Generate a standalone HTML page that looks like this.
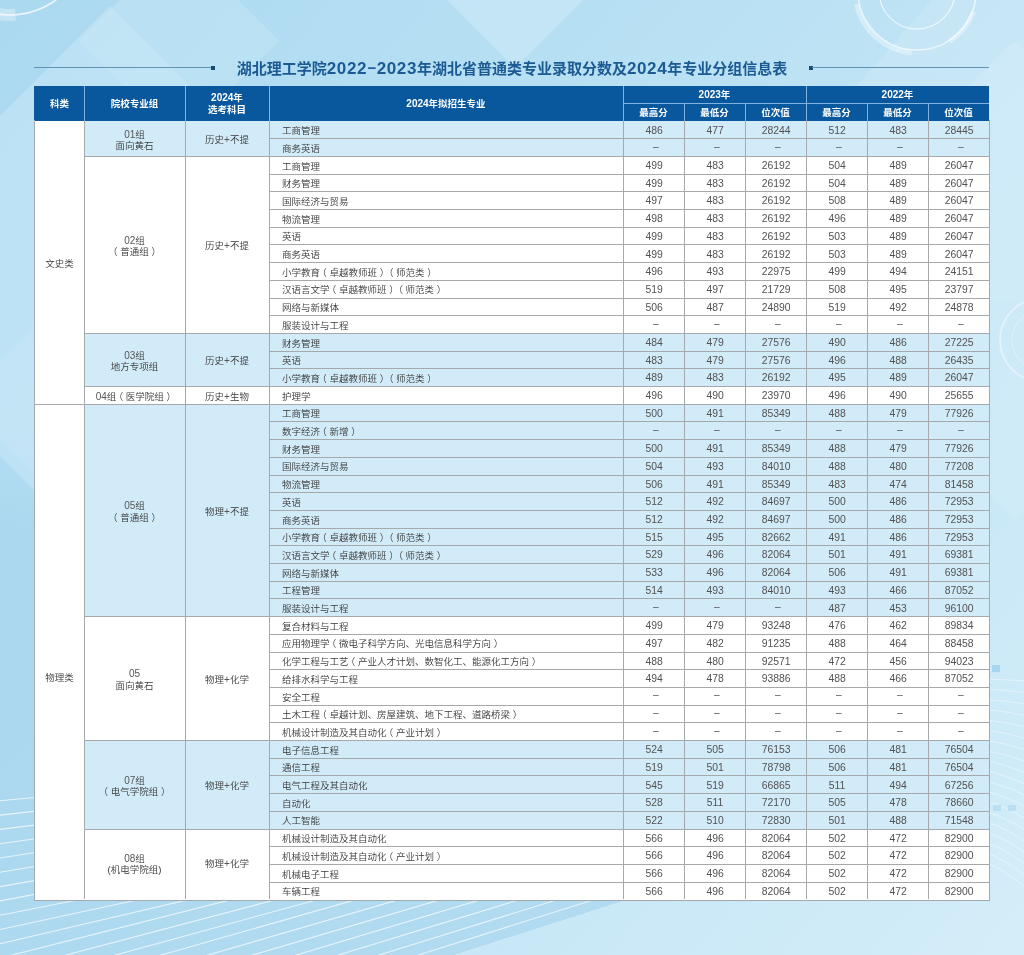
<!DOCTYPE html>
<html lang="zh-CN"><head><meta charset="utf-8">
<title>湖北理工学院2022-2023年湖北省普通类专业录取分数及2024年专业分组信息表</title>
<style>
html,body{margin:0;padding:0}
body{width:1024px;height:955px;overflow:hidden;position:relative;background:#b6def2;font-family:"Liberation Sans","Noto Sans CJK SC",sans-serif}
.bg{position:absolute;left:0;top:0}
.b{position:absolute}
.t,.n,.h{position:absolute;white-space:nowrap;color:#444444;text-spacing-trim:space-all}
.t{font-family:"Liberation Sans","Noto Sans CJK SC",sans-serif;font-size:9.5px;font-weight:350;color:#383838}
.t .n{position:static;font-family:"Liberation Sans",sans-serif;font-size:10px;color:#555}
.n{font-family:"Liberation Sans",sans-serif;font-size:10.4px;color:#525252}
.h{font-family:"Liberation Sans","Noto Sans CJK SC",sans-serif;font-size:9.5px;font-weight:700;color:#fff}
.hd{font-family:"Liberation Sans",sans-serif;font-weight:700;font-size:10px}
.title{position:absolute;left:0;width:1024px;top:58px;height:22px;line-height:22px;text-align:center;font-family:"Liberation Sans","Noto Sans CJK SC",sans-serif;font-weight:700;font-size:15px;color:#1b5a93;white-space:nowrap}
.title .d{font-family:"Liberation Sans",sans-serif;font-size:17px;font-weight:700;letter-spacing:0.6px}
.mn{position:relative;top:-1.5px;margin:0 0.5px}
.po{position:relative;left:-0.28em}
.pc{position:relative;left:0.29em}
.dash{font-size:10.2px;position:relative;top:-1.7px;left:1.8px;color:#555}
</style></head><body>
<svg class="bg" width="1024" height="955" viewBox="0 0 1024 955">
<defs>
<linearGradient id="g0" x1="0" y1="0" x2="1024" y2="955" gradientUnits="userSpaceOnUse">
<stop offset="0" stop-color="#abd9f0"/>
<stop offset="0.45" stop-color="#bce2f4"/>
<stop offset="1" stop-color="#d4edf9"/>
</linearGradient>
<linearGradient id="fadeR" x1="0" y1="0" x2="700" y2="0" gradientUnits="userSpaceOnUse">
<stop offset="0" stop-color="#fff" stop-opacity="0.85"/>
<stop offset="0.6" stop-color="#fff" stop-opacity="0.6"/>
<stop offset="0.9" stop-color="#fff" stop-opacity="0"/>
</linearGradient>
<linearGradient id="darkBL" x1="0" y1="0" x2="700" y2="0" gradientUnits="userSpaceOnUse">
<stop offset="0" stop-color="#a2d3ec" stop-opacity="1"/>
<stop offset="0.7" stop-color="#a2d3ec" stop-opacity="0.4"/>
<stop offset="1" stop-color="#a2d3ec" stop-opacity="0"/>
</linearGradient>
</defs>
<rect width="1024" height="955" fill="url(#g0)"/>
<clipPath id="stc"><polygon points="0,600 980,600 980,787 456,955 0,955"/></clipPath>
<linearGradient id="dk" x1="0" y1="430" x2="0" y2="540" gradientUnits="userSpaceOnUse"><stop offset="0" stop-color="#a5d4ed" stop-opacity="0"/><stop offset="1" stop-color="#a5d4ed" stop-opacity="0.65"/></linearGradient>
<polygon points="0,430 980,430 980,787 456,955 0,955" fill="url(#dk)"/>
<polygon points="110,6 390,286 110,566 -170,286" fill="#c8e8f7" opacity="0.55"/>
<polygon points="179,-59 279,41 179,141 79,41" fill="#c8e8f7" opacity="0.45"/>
<polygon points="515,-212 655,-72 515,68 375,-72" fill="#cdeaf8" opacity="0.6"/>
<polygon points="932,0 1024,0 1024,300 668,300" fill="#cdeaf8" opacity="0.5"/>
<polygon points="1015,40 1255,280 1015,520 775,280" fill="#d6eefa" opacity="0.5"/>
<polygon points="30,330 100,400 30,470 -40,400" fill="#c4e5f5" opacity="0.6"/>
<filter id="bl" x="-20%" y="-20%" width="140%" height="140%"><feGaussianBlur stdDeviation="0.7"/></filter>
<g fill="none" stroke="#ffffff" filter="url(#bl)">
<circle cx="917" cy="-9" r="38" stroke-width="1.1" opacity="0.75"/>
<circle cx="917" cy="-9" r="59" stroke-width="1.6" opacity="0.65"/>
<path d="M 911.6 52.8 A 62 62 0 0 1 856.4 3.9" stroke-width="5" opacity="0.35"/>
<path d="M 973.4 11.5 A 60 60 0 0 1 949.7 41.3" stroke-width="5" opacity="0.35"/>
<circle cx="10" cy="-63" r="78" stroke-width="1.6" opacity="0.75"/>
<circle cx="1042" cy="340" r="42" stroke-width="1.8" opacity="0.45"/>
<circle cx="1042" cy="340" r="30" stroke-width="1" opacity="0.35"/>
<path d="M 15.4 14.8 A 78 78 0 0 1 -2.2 14.0" stroke-width="12" opacity="0.3"/>
</g>
<g stroke="#ffffff" stroke-opacity="0.7" stroke-width="1.1" fill="none" clip-path="url(#stc)">
<line x1="0" y1="800.8" x2="1000" y2="706.8" />
<line x1="0" y1="815.1" x2="1000" y2="705.6" />
<line x1="0" y1="829.4" x2="1000" y2="704.4" />
<line x1="0" y1="843.7" x2="1000" y2="703.2" />
<line x1="0" y1="858.0" x2="1000" y2="702.0" />
<line x1="0" y1="872.3" x2="1000" y2="706.0" />
<line x1="0" y1="886.6" x2="1000" y2="710.1" />
<line x1="0" y1="900.9" x2="1000" y2="714.1" />
<line x1="0" y1="915.2" x2="1000" y2="718.2" />
<line x1="0" y1="929.5" x2="1000" y2="713.8" />
<line x1="0" y1="943.8" x2="1000" y2="709.5" />
<line x1="0" y1="958.1" x2="1000" y2="705.1" />
<line x1="0" y1="972.4" x2="1000" y2="708.7" />
<line x1="0" y1="986.7" x2="1000" y2="712.4" />
<line x1="0" y1="1001.0" x2="1000" y2="716.0" />
<line x1="0" y1="1015.3" x2="1000" y2="725.3" />
<line x1="0" y1="1029.6" x2="1000" y2="734.6" />
<line x1="0" y1="1043.9" x2="1000" y2="743.9" />
<line x1="0" y1="1058.2" x2="1000" y2="753.2" />
<line x1="0" y1="1072.5" x2="1000" y2="762.5" />
<line x1="0" y1="1086.8" x2="1000" y2="771.8" />
<line x1="0" y1="1101.1" x2="1000" y2="781.1" />
</g>
<g stroke="#ffffff" stroke-opacity="0.45" stroke-width="0.9" fill="none">
<path d="M 985 679.0 Q 1005 679.5 1026 681.0" />
<path d="M 985 689.2 Q 1005 690.1 1026 692.5" />
<path d="M 985 699.4 Q 1005 700.6 1026 704.0" />
<path d="M 985 709.6 Q 1005 711.1 1026 715.5" />
<path d="M 985 719.8 Q 1005 721.7 1026 727.0" />
<path d="M 985 730.0 Q 1005 732.2 1026 738.5" />
<path d="M 985 740.2 Q 1005 742.8 1026 750.0" />
<path d="M 985 750.4 Q 1005 753.4 1026 761.5" />
<path d="M 985 760.6 Q 1005 763.9 1026 773.0" />
<path d="M 985 770.8 Q 1005 774.4 1026 784.5" />
<path d="M 985 781.0 Q 1005 785.0 1026 796.0" />
<path d="M 985 791.2 Q 1005 795.6 1026 807.5" />
<path d="M 985 801.4 Q 1005 806.1 1026 819.0" />
<path d="M 985 811.6 Q 1005 816.6 1026 830.5" />
<path d="M 985 821.8 Q 1005 827.2 1026 842.0" />
<path d="M 985 832.0 Q 1005 837.8 1026 853.5" />
<path d="M 985 842.2 Q 1005 848.3 1026 865.0" />
<path d="M 985 852.4 Q 1005 858.9 1026 876.5" />
<path d="M 985 862.6 Q 1005 869.4 1026 888.0" />
</g>
<rect x="992" y="665" width="8" height="7" fill="#9fd0ec" opacity="0.8"/>
<rect x="993" y="805" width="8" height="6" fill="#b5dcf0" opacity="0.8"/>
<rect x="1008" y="805" width="8" height="6" fill="#b5dcf0" opacity="0.8"/>
</svg>
<div class="b" style="left:34px;top:67px;width:178px;height:1px;background:#6292b5"></div>
<div class="b" style="left:211px;top:66px;width:4px;height:4px;background:#1b4a70"></div>
<div class="b" style="left:809px;top:66px;width:4px;height:4px;background:#1b4a70"></div>
<div class="b" style="left:812px;top:67px;width:177px;height:1px;background:#6292b5"></div>
<div class="title">湖北理工学院<span class="d">2022</span><span class="mn">−</span><span class="d">2023</span>年湖北省普通类专业录取分数及<span class="d">2024</span>年专业分组信息表</div>
<div class="b" style="left:34.00px;top:120.50px;width:955.00px;height:779.50px;background:#ffffff;"></div>
<div class="b" style="left:84.00px;top:121.00px;width:905.00px;height:35.40px;background:#d2ebf9;"></div>
<div class="b" style="left:84.00px;top:333.40px;width:905.00px;height:53.10px;background:#d2ebf9;"></div>
<div class="b" style="left:84.00px;top:404.20px;width:905.00px;height:212.40px;background:#d2ebf9;"></div>
<div class="b" style="left:84.00px;top:740.50px;width:905.00px;height:88.50px;background:#d2ebf9;"></div>
<div class="b" style="left:34.00px;top:86.00px;width:955.00px;height:34.50px;background:#09589d;"></div>
<div class="b" style="left:34px;top:120px;width:1px;height:781px;background:#a6a9ab"></div>
<div class="b" style="left:989px;top:120px;width:1px;height:781px;background:#a6a9ab"></div>
<div class="b" style="left:34px;top:900px;width:956px;height:1px;background:#a6a9ab"></div>
<div class="b" style="left:84px;top:120px;width:1px;height:779px;background:#a6a9ab"></div>
<div class="b" style="left:185px;top:120px;width:1px;height:779px;background:#a6a9ab"></div>
<div class="b" style="left:269px;top:120px;width:1px;height:779px;background:#a6a9ab"></div>
<div class="b" style="left:623px;top:120px;width:1px;height:779px;background:#a6a9ab"></div>
<div class="b" style="left:684px;top:120px;width:1px;height:779px;background:#a6a9ab"></div>
<div class="b" style="left:745px;top:120px;width:1px;height:779px;background:#a6a9ab"></div>
<div class="b" style="left:806px;top:120px;width:1px;height:779px;background:#a6a9ab"></div>
<div class="b" style="left:867px;top:120px;width:1px;height:779px;background:#a6a9ab"></div>
<div class="b" style="left:928px;top:120px;width:1px;height:779px;background:#a6a9ab"></div>
<div class="b" style="left:269px;top:138px;width:720px;height:1px;background:#a6a9ab"></div>
<div class="b" style="left:269px;top:156px;width:720px;height:1px;background:#a6a9ab"></div>
<div class="b" style="left:269px;top:174px;width:720px;height:1px;background:#a6a9ab"></div>
<div class="b" style="left:269px;top:191px;width:720px;height:1px;background:#a6a9ab"></div>
<div class="b" style="left:269px;top:209px;width:720px;height:1px;background:#a6a9ab"></div>
<div class="b" style="left:269px;top:227px;width:720px;height:1px;background:#a6a9ab"></div>
<div class="b" style="left:269px;top:244px;width:720px;height:1px;background:#a6a9ab"></div>
<div class="b" style="left:269px;top:262px;width:720px;height:1px;background:#a6a9ab"></div>
<div class="b" style="left:269px;top:280px;width:720px;height:1px;background:#a6a9ab"></div>
<div class="b" style="left:269px;top:298px;width:720px;height:1px;background:#a6a9ab"></div>
<div class="b" style="left:269px;top:315px;width:720px;height:1px;background:#a6a9ab"></div>
<div class="b" style="left:269px;top:333px;width:720px;height:1px;background:#a6a9ab"></div>
<div class="b" style="left:269px;top:351px;width:720px;height:1px;background:#a6a9ab"></div>
<div class="b" style="left:269px;top:368px;width:720px;height:1px;background:#a6a9ab"></div>
<div class="b" style="left:269px;top:386px;width:720px;height:1px;background:#a6a9ab"></div>
<div class="b" style="left:269px;top:404px;width:720px;height:1px;background:#a6a9ab"></div>
<div class="b" style="left:269px;top:421px;width:720px;height:1px;background:#a6a9ab"></div>
<div class="b" style="left:269px;top:439px;width:720px;height:1px;background:#a6a9ab"></div>
<div class="b" style="left:269px;top:457px;width:720px;height:1px;background:#a6a9ab"></div>
<div class="b" style="left:269px;top:475px;width:720px;height:1px;background:#a6a9ab"></div>
<div class="b" style="left:269px;top:492px;width:720px;height:1px;background:#a6a9ab"></div>
<div class="b" style="left:269px;top:510px;width:720px;height:1px;background:#a6a9ab"></div>
<div class="b" style="left:269px;top:528px;width:720px;height:1px;background:#a6a9ab"></div>
<div class="b" style="left:269px;top:545px;width:720px;height:1px;background:#a6a9ab"></div>
<div class="b" style="left:269px;top:563px;width:720px;height:1px;background:#a6a9ab"></div>
<div class="b" style="left:269px;top:581px;width:720px;height:1px;background:#a6a9ab"></div>
<div class="b" style="left:269px;top:598px;width:720px;height:1px;background:#a6a9ab"></div>
<div class="b" style="left:269px;top:616px;width:720px;height:1px;background:#a6a9ab"></div>
<div class="b" style="left:269px;top:634px;width:720px;height:1px;background:#a6a9ab"></div>
<div class="b" style="left:269px;top:652px;width:720px;height:1px;background:#a6a9ab"></div>
<div class="b" style="left:269px;top:669px;width:720px;height:1px;background:#a6a9ab"></div>
<div class="b" style="left:269px;top:687px;width:720px;height:1px;background:#a6a9ab"></div>
<div class="b" style="left:269px;top:705px;width:720px;height:1px;background:#a6a9ab"></div>
<div class="b" style="left:269px;top:722px;width:720px;height:1px;background:#a6a9ab"></div>
<div class="b" style="left:269px;top:740px;width:720px;height:1px;background:#a6a9ab"></div>
<div class="b" style="left:269px;top:758px;width:720px;height:1px;background:#a6a9ab"></div>
<div class="b" style="left:269px;top:775px;width:720px;height:1px;background:#a6a9ab"></div>
<div class="b" style="left:269px;top:793px;width:720px;height:1px;background:#a6a9ab"></div>
<div class="b" style="left:269px;top:811px;width:720px;height:1px;background:#a6a9ab"></div>
<div class="b" style="left:269px;top:829px;width:720px;height:1px;background:#a6a9ab"></div>
<div class="b" style="left:269px;top:846px;width:720px;height:1px;background:#a6a9ab"></div>
<div class="b" style="left:269px;top:864px;width:720px;height:1px;background:#a6a9ab"></div>
<div class="b" style="left:269px;top:882px;width:720px;height:1px;background:#a6a9ab"></div>
<div class="b" style="left:84px;top:156px;width:185px;height:1px;background:#a6a9ab"></div>
<div class="b" style="left:84px;top:333px;width:185px;height:1px;background:#a6a9ab"></div>
<div class="b" style="left:84px;top:386px;width:185px;height:1px;background:#a6a9ab"></div>
<div class="b" style="left:84px;top:404px;width:185px;height:1px;background:#a6a9ab"></div>
<div class="b" style="left:84px;top:616px;width:185px;height:1px;background:#a6a9ab"></div>
<div class="b" style="left:84px;top:740px;width:185px;height:1px;background:#a6a9ab"></div>
<div class="b" style="left:84px;top:829px;width:185px;height:1px;background:#a6a9ab"></div>
<div class="b" style="left:35px;top:404px;width:49px;height:1px;background:#a6a9ab"></div>
<div class="b" style="left:84px;top:86px;width:1px;height:34px;background:#7fb2e0"></div>
<div class="b" style="left:185px;top:86px;width:1px;height:34px;background:#7fb2e0"></div>
<div class="b" style="left:269px;top:86px;width:1px;height:34px;background:#7fb2e0"></div>
<div class="b" style="left:623px;top:86px;width:1px;height:34px;background:#7fb2e0"></div>
<div class="b" style="left:806px;top:86px;width:1px;height:34px;background:#7fb2e0"></div>
<div class="b" style="left:684px;top:103px;width:1px;height:17px;background:#7fb2e0"></div>
<div class="b" style="left:745px;top:103px;width:1px;height:17px;background:#7fb2e0"></div>
<div class="b" style="left:867px;top:103px;width:1px;height:17px;background:#7fb2e0"></div>
<div class="b" style="left:928px;top:103px;width:1px;height:17px;background:#7fb2e0"></div>
<div class="b" style="left:623px;top:103px;width:366px;height:1px;background:#7fb2e0"></div>
<div class="h" style="left:35.00px;top:94.25px;width:49.00px;height:20px;line-height:20px;text-align:center">科类</div>
<div class="h" style="left:84.00px;top:94.25px;width:101.00px;height:20px;line-height:20px;text-align:center">院校专业组</div>
<div class="h" style="left:185.00px;top:91.85px;width:84.00px;height:24px;line-height:12px;text-align:center"><span class="hd">2024</span>年<br>选考科目</div>
<div class="h" style="left:269.00px;top:94.25px;width:354.00px;height:20px;line-height:20px;text-align:center"><span class="hd">2024</span>年拟招生专业</div>
<div class="h" style="left:623.00px;top:84.85px;width:183.00px;height:20px;line-height:20px;text-align:center"><span class="hd">2023</span>年</div>
<div class="h" style="left:806.00px;top:84.85px;width:183.00px;height:20px;line-height:20px;text-align:center"><span class="hd">2022</span>年</div>
<div class="h" style="left:623.00px;top:103.20px;width:61.00px;height:20px;line-height:20px;text-align:center">最高分</div>
<div class="h" style="left:684.00px;top:103.20px;width:61.00px;height:20px;line-height:20px;text-align:center">最低分</div>
<div class="h" style="left:745.00px;top:103.20px;width:61.00px;height:20px;line-height:20px;text-align:center">位次值</div>
<div class="h" style="left:806.00px;top:103.20px;width:61.00px;height:20px;line-height:20px;text-align:center">最高分</div>
<div class="h" style="left:867.00px;top:103.20px;width:61.00px;height:20px;line-height:20px;text-align:center">最低分</div>
<div class="h" style="left:928.00px;top:103.20px;width:61.00px;height:20px;line-height:20px;text-align:center">位次值</div>
<div class="t" style="left:35.00px;top:253.80px;width:49.00px;height:20px;line-height:20px;text-align:center">文史类</div>
<div class="t" style="left:35.00px;top:668.40px;width:49.00px;height:20px;line-height:20px;text-align:center">物理类</div>
<div class="t" style="left:84.00px;top:128.60px;width:101.00px;height:22.4px;line-height:11.2px;text-align:center"><span class="n">01</span>组<br>面向黄石</div>
<div class="t" style="left:185.00px;top:130.00px;width:84.00px;height:20px;line-height:20px;text-align:center">历史<span class="n">+</span>不提</div>
<div class="t" style="left:84.00px;top:234.80px;width:101.00px;height:22.4px;line-height:11.2px;text-align:center"><span class="n">02</span>组<br><span class="po">（</span>普通组<span class="pc">）</span></div>
<div class="t" style="left:185.00px;top:236.20px;width:84.00px;height:20px;line-height:20px;text-align:center">历史<span class="n">+</span>不提</div>
<div class="t" style="left:84.00px;top:349.85px;width:101.00px;height:22.4px;line-height:11.2px;text-align:center"><span class="n">03</span>组<br>地方专项组</div>
<div class="t" style="left:185.00px;top:351.25px;width:84.00px;height:20px;line-height:20px;text-align:center">历史<span class="n">+</span>不提</div>
<div class="t" style="left:84.00px;top:386.65px;width:101.00px;height:20px;line-height:20px;text-align:center"><span class="n">04</span>组<span class="po">（</span>医学院组<span class="pc">）</span></div>
<div class="t" style="left:185.00px;top:386.65px;width:84.00px;height:20px;line-height:20px;text-align:center">历史<span class="n">+</span>生物</div>
<div class="t" style="left:84.00px;top:500.30px;width:101.00px;height:22.4px;line-height:11.2px;text-align:center"><span class="n">05</span>组<br><span class="po">（</span>普通组<span class="pc">）</span></div>
<div class="t" style="left:185.00px;top:501.70px;width:84.00px;height:20px;line-height:20px;text-align:center">物理<span class="n">+</span>不提</div>
<div class="t" style="left:84.00px;top:668.45px;width:101.00px;height:22.4px;line-height:11.2px;text-align:center"><span class="n">05</span><br>面向黄石</div>
<div class="t" style="left:185.00px;top:669.85px;width:84.00px;height:20px;line-height:20px;text-align:center">物理<span class="n">+</span>化学</div>
<div class="t" style="left:84.00px;top:774.65px;width:101.00px;height:22.4px;line-height:11.2px;text-align:center"><span class="n">07</span>组<br><span class="po">（</span>电气学院组<span class="pc">）</span></div>
<div class="t" style="left:185.00px;top:776.05px;width:84.00px;height:20px;line-height:20px;text-align:center">物理<span class="n">+</span>化学</div>
<div class="t" style="left:84.00px;top:852.90px;width:101.00px;height:22.4px;line-height:11.2px;text-align:center"><span class="n">08</span>组<br>(机电学院组)</div>
<div class="t" style="left:185.00px;top:854.30px;width:84.00px;height:20px;line-height:20px;text-align:center">物理<span class="n">+</span>化学</div>
<div class="t" style="left:282.00px;top:121.15px;width:341.00px;height:20px;line-height:20px;text-align:left">工商管理</div>
<div class="n" style="left:623.60px;top:120.65px;width:61.00px;height:20px;line-height:20px;text-align:center">486</div>
<div class="n" style="left:684.60px;top:120.65px;width:61.00px;height:20px;line-height:20px;text-align:center">477</div>
<div class="n" style="left:745.60px;top:120.65px;width:61.00px;height:20px;line-height:20px;text-align:center">28244</div>
<div class="n" style="left:806.60px;top:120.65px;width:61.00px;height:20px;line-height:20px;text-align:center">512</div>
<div class="n" style="left:867.60px;top:120.65px;width:61.00px;height:20px;line-height:20px;text-align:center">483</div>
<div class="n" style="left:928.60px;top:120.65px;width:61.00px;height:20px;line-height:20px;text-align:center">28445</div>
<div class="t" style="left:282.00px;top:138.85px;width:341.00px;height:20px;line-height:20px;text-align:left">商务英语</div>
<div class="n" style="left:623.60px;top:138.35px;width:61.00px;height:20px;line-height:20px;text-align:center"><span class="dash">–</span></div>
<div class="n" style="left:684.60px;top:138.35px;width:61.00px;height:20px;line-height:20px;text-align:center"><span class="dash">–</span></div>
<div class="n" style="left:745.60px;top:138.35px;width:61.00px;height:20px;line-height:20px;text-align:center"><span class="dash">–</span></div>
<div class="n" style="left:806.60px;top:138.35px;width:61.00px;height:20px;line-height:20px;text-align:center"><span class="dash">–</span></div>
<div class="n" style="left:867.60px;top:138.35px;width:61.00px;height:20px;line-height:20px;text-align:center"><span class="dash">–</span></div>
<div class="n" style="left:928.60px;top:138.35px;width:61.00px;height:20px;line-height:20px;text-align:center"><span class="dash">–</span></div>
<div class="t" style="left:282.00px;top:156.55px;width:341.00px;height:20px;line-height:20px;text-align:left">工商管理</div>
<div class="n" style="left:623.60px;top:156.05px;width:61.00px;height:20px;line-height:20px;text-align:center">499</div>
<div class="n" style="left:684.60px;top:156.05px;width:61.00px;height:20px;line-height:20px;text-align:center">483</div>
<div class="n" style="left:745.60px;top:156.05px;width:61.00px;height:20px;line-height:20px;text-align:center">26192</div>
<div class="n" style="left:806.60px;top:156.05px;width:61.00px;height:20px;line-height:20px;text-align:center">504</div>
<div class="n" style="left:867.60px;top:156.05px;width:61.00px;height:20px;line-height:20px;text-align:center">489</div>
<div class="n" style="left:928.60px;top:156.05px;width:61.00px;height:20px;line-height:20px;text-align:center">26047</div>
<div class="t" style="left:282.00px;top:174.25px;width:341.00px;height:20px;line-height:20px;text-align:left">财务管理</div>
<div class="n" style="left:623.60px;top:173.75px;width:61.00px;height:20px;line-height:20px;text-align:center">499</div>
<div class="n" style="left:684.60px;top:173.75px;width:61.00px;height:20px;line-height:20px;text-align:center">483</div>
<div class="n" style="left:745.60px;top:173.75px;width:61.00px;height:20px;line-height:20px;text-align:center">26192</div>
<div class="n" style="left:806.60px;top:173.75px;width:61.00px;height:20px;line-height:20px;text-align:center">504</div>
<div class="n" style="left:867.60px;top:173.75px;width:61.00px;height:20px;line-height:20px;text-align:center">489</div>
<div class="n" style="left:928.60px;top:173.75px;width:61.00px;height:20px;line-height:20px;text-align:center">26047</div>
<div class="t" style="left:282.00px;top:191.95px;width:341.00px;height:20px;line-height:20px;text-align:left">国际经济与贸易</div>
<div class="n" style="left:623.60px;top:191.45px;width:61.00px;height:20px;line-height:20px;text-align:center">497</div>
<div class="n" style="left:684.60px;top:191.45px;width:61.00px;height:20px;line-height:20px;text-align:center">483</div>
<div class="n" style="left:745.60px;top:191.45px;width:61.00px;height:20px;line-height:20px;text-align:center">26192</div>
<div class="n" style="left:806.60px;top:191.45px;width:61.00px;height:20px;line-height:20px;text-align:center">508</div>
<div class="n" style="left:867.60px;top:191.45px;width:61.00px;height:20px;line-height:20px;text-align:center">489</div>
<div class="n" style="left:928.60px;top:191.45px;width:61.00px;height:20px;line-height:20px;text-align:center">26047</div>
<div class="t" style="left:282.00px;top:209.65px;width:341.00px;height:20px;line-height:20px;text-align:left">物流管理</div>
<div class="n" style="left:623.60px;top:209.15px;width:61.00px;height:20px;line-height:20px;text-align:center">498</div>
<div class="n" style="left:684.60px;top:209.15px;width:61.00px;height:20px;line-height:20px;text-align:center">483</div>
<div class="n" style="left:745.60px;top:209.15px;width:61.00px;height:20px;line-height:20px;text-align:center">26192</div>
<div class="n" style="left:806.60px;top:209.15px;width:61.00px;height:20px;line-height:20px;text-align:center">496</div>
<div class="n" style="left:867.60px;top:209.15px;width:61.00px;height:20px;line-height:20px;text-align:center">489</div>
<div class="n" style="left:928.60px;top:209.15px;width:61.00px;height:20px;line-height:20px;text-align:center">26047</div>
<div class="t" style="left:282.00px;top:227.35px;width:341.00px;height:20px;line-height:20px;text-align:left">英语</div>
<div class="n" style="left:623.60px;top:226.85px;width:61.00px;height:20px;line-height:20px;text-align:center">499</div>
<div class="n" style="left:684.60px;top:226.85px;width:61.00px;height:20px;line-height:20px;text-align:center">483</div>
<div class="n" style="left:745.60px;top:226.85px;width:61.00px;height:20px;line-height:20px;text-align:center">26192</div>
<div class="n" style="left:806.60px;top:226.85px;width:61.00px;height:20px;line-height:20px;text-align:center">503</div>
<div class="n" style="left:867.60px;top:226.85px;width:61.00px;height:20px;line-height:20px;text-align:center">489</div>
<div class="n" style="left:928.60px;top:226.85px;width:61.00px;height:20px;line-height:20px;text-align:center">26047</div>
<div class="t" style="left:282.00px;top:245.05px;width:341.00px;height:20px;line-height:20px;text-align:left">商务英语</div>
<div class="n" style="left:623.60px;top:244.55px;width:61.00px;height:20px;line-height:20px;text-align:center">499</div>
<div class="n" style="left:684.60px;top:244.55px;width:61.00px;height:20px;line-height:20px;text-align:center">483</div>
<div class="n" style="left:745.60px;top:244.55px;width:61.00px;height:20px;line-height:20px;text-align:center">26192</div>
<div class="n" style="left:806.60px;top:244.55px;width:61.00px;height:20px;line-height:20px;text-align:center">503</div>
<div class="n" style="left:867.60px;top:244.55px;width:61.00px;height:20px;line-height:20px;text-align:center">489</div>
<div class="n" style="left:928.60px;top:244.55px;width:61.00px;height:20px;line-height:20px;text-align:center">26047</div>
<div class="t" style="left:282.00px;top:262.75px;width:341.00px;height:20px;line-height:20px;text-align:left">小学教育<span class="po">（</span>卓越教师班<span class="pc">）</span><span class="po">（</span>师范类<span class="pc">）</span></div>
<div class="n" style="left:623.60px;top:262.25px;width:61.00px;height:20px;line-height:20px;text-align:center">496</div>
<div class="n" style="left:684.60px;top:262.25px;width:61.00px;height:20px;line-height:20px;text-align:center">493</div>
<div class="n" style="left:745.60px;top:262.25px;width:61.00px;height:20px;line-height:20px;text-align:center">22975</div>
<div class="n" style="left:806.60px;top:262.25px;width:61.00px;height:20px;line-height:20px;text-align:center">499</div>
<div class="n" style="left:867.60px;top:262.25px;width:61.00px;height:20px;line-height:20px;text-align:center">494</div>
<div class="n" style="left:928.60px;top:262.25px;width:61.00px;height:20px;line-height:20px;text-align:center">24151</div>
<div class="t" style="left:282.00px;top:280.45px;width:341.00px;height:20px;line-height:20px;text-align:left">汉语言文学<span class="po">（</span>卓越教师班<span class="pc">）</span><span class="po">（</span>师范类<span class="pc">）</span></div>
<div class="n" style="left:623.60px;top:279.95px;width:61.00px;height:20px;line-height:20px;text-align:center">519</div>
<div class="n" style="left:684.60px;top:279.95px;width:61.00px;height:20px;line-height:20px;text-align:center">497</div>
<div class="n" style="left:745.60px;top:279.95px;width:61.00px;height:20px;line-height:20px;text-align:center">21729</div>
<div class="n" style="left:806.60px;top:279.95px;width:61.00px;height:20px;line-height:20px;text-align:center">508</div>
<div class="n" style="left:867.60px;top:279.95px;width:61.00px;height:20px;line-height:20px;text-align:center">495</div>
<div class="n" style="left:928.60px;top:279.95px;width:61.00px;height:20px;line-height:20px;text-align:center">23797</div>
<div class="t" style="left:282.00px;top:298.15px;width:341.00px;height:20px;line-height:20px;text-align:left">网络与新媒体</div>
<div class="n" style="left:623.60px;top:297.65px;width:61.00px;height:20px;line-height:20px;text-align:center">506</div>
<div class="n" style="left:684.60px;top:297.65px;width:61.00px;height:20px;line-height:20px;text-align:center">487</div>
<div class="n" style="left:745.60px;top:297.65px;width:61.00px;height:20px;line-height:20px;text-align:center">24890</div>
<div class="n" style="left:806.60px;top:297.65px;width:61.00px;height:20px;line-height:20px;text-align:center">519</div>
<div class="n" style="left:867.60px;top:297.65px;width:61.00px;height:20px;line-height:20px;text-align:center">492</div>
<div class="n" style="left:928.60px;top:297.65px;width:61.00px;height:20px;line-height:20px;text-align:center">24878</div>
<div class="t" style="left:282.00px;top:315.85px;width:341.00px;height:20px;line-height:20px;text-align:left">服装设计与工程</div>
<div class="n" style="left:623.60px;top:315.35px;width:61.00px;height:20px;line-height:20px;text-align:center"><span class="dash">–</span></div>
<div class="n" style="left:684.60px;top:315.35px;width:61.00px;height:20px;line-height:20px;text-align:center"><span class="dash">–</span></div>
<div class="n" style="left:745.60px;top:315.35px;width:61.00px;height:20px;line-height:20px;text-align:center"><span class="dash">–</span></div>
<div class="n" style="left:806.60px;top:315.35px;width:61.00px;height:20px;line-height:20px;text-align:center"><span class="dash">–</span></div>
<div class="n" style="left:867.60px;top:315.35px;width:61.00px;height:20px;line-height:20px;text-align:center"><span class="dash">–</span></div>
<div class="n" style="left:928.60px;top:315.35px;width:61.00px;height:20px;line-height:20px;text-align:center"><span class="dash">–</span></div>
<div class="t" style="left:282.00px;top:333.55px;width:341.00px;height:20px;line-height:20px;text-align:left">财务管理</div>
<div class="n" style="left:623.60px;top:333.05px;width:61.00px;height:20px;line-height:20px;text-align:center">484</div>
<div class="n" style="left:684.60px;top:333.05px;width:61.00px;height:20px;line-height:20px;text-align:center">479</div>
<div class="n" style="left:745.60px;top:333.05px;width:61.00px;height:20px;line-height:20px;text-align:center">27576</div>
<div class="n" style="left:806.60px;top:333.05px;width:61.00px;height:20px;line-height:20px;text-align:center">490</div>
<div class="n" style="left:867.60px;top:333.05px;width:61.00px;height:20px;line-height:20px;text-align:center">486</div>
<div class="n" style="left:928.60px;top:333.05px;width:61.00px;height:20px;line-height:20px;text-align:center">27225</div>
<div class="t" style="left:282.00px;top:351.25px;width:341.00px;height:20px;line-height:20px;text-align:left">英语</div>
<div class="n" style="left:623.60px;top:350.75px;width:61.00px;height:20px;line-height:20px;text-align:center">483</div>
<div class="n" style="left:684.60px;top:350.75px;width:61.00px;height:20px;line-height:20px;text-align:center">479</div>
<div class="n" style="left:745.60px;top:350.75px;width:61.00px;height:20px;line-height:20px;text-align:center">27576</div>
<div class="n" style="left:806.60px;top:350.75px;width:61.00px;height:20px;line-height:20px;text-align:center">496</div>
<div class="n" style="left:867.60px;top:350.75px;width:61.00px;height:20px;line-height:20px;text-align:center">488</div>
<div class="n" style="left:928.60px;top:350.75px;width:61.00px;height:20px;line-height:20px;text-align:center">26435</div>
<div class="t" style="left:282.00px;top:368.95px;width:341.00px;height:20px;line-height:20px;text-align:left">小学教育<span class="po">（</span>卓越教师班<span class="pc">）</span><span class="po">（</span>师范类<span class="pc">）</span></div>
<div class="n" style="left:623.60px;top:368.45px;width:61.00px;height:20px;line-height:20px;text-align:center">489</div>
<div class="n" style="left:684.60px;top:368.45px;width:61.00px;height:20px;line-height:20px;text-align:center">483</div>
<div class="n" style="left:745.60px;top:368.45px;width:61.00px;height:20px;line-height:20px;text-align:center">26192</div>
<div class="n" style="left:806.60px;top:368.45px;width:61.00px;height:20px;line-height:20px;text-align:center">495</div>
<div class="n" style="left:867.60px;top:368.45px;width:61.00px;height:20px;line-height:20px;text-align:center">489</div>
<div class="n" style="left:928.60px;top:368.45px;width:61.00px;height:20px;line-height:20px;text-align:center">26047</div>
<div class="t" style="left:282.00px;top:386.65px;width:341.00px;height:20px;line-height:20px;text-align:left">护理学</div>
<div class="n" style="left:623.60px;top:386.15px;width:61.00px;height:20px;line-height:20px;text-align:center">496</div>
<div class="n" style="left:684.60px;top:386.15px;width:61.00px;height:20px;line-height:20px;text-align:center">490</div>
<div class="n" style="left:745.60px;top:386.15px;width:61.00px;height:20px;line-height:20px;text-align:center">23970</div>
<div class="n" style="left:806.60px;top:386.15px;width:61.00px;height:20px;line-height:20px;text-align:center">496</div>
<div class="n" style="left:867.60px;top:386.15px;width:61.00px;height:20px;line-height:20px;text-align:center">490</div>
<div class="n" style="left:928.60px;top:386.15px;width:61.00px;height:20px;line-height:20px;text-align:center">25655</div>
<div class="t" style="left:282.00px;top:404.35px;width:341.00px;height:20px;line-height:20px;text-align:left">工商管理</div>
<div class="n" style="left:623.60px;top:403.85px;width:61.00px;height:20px;line-height:20px;text-align:center">500</div>
<div class="n" style="left:684.60px;top:403.85px;width:61.00px;height:20px;line-height:20px;text-align:center">491</div>
<div class="n" style="left:745.60px;top:403.85px;width:61.00px;height:20px;line-height:20px;text-align:center">85349</div>
<div class="n" style="left:806.60px;top:403.85px;width:61.00px;height:20px;line-height:20px;text-align:center">488</div>
<div class="n" style="left:867.60px;top:403.85px;width:61.00px;height:20px;line-height:20px;text-align:center">479</div>
<div class="n" style="left:928.60px;top:403.85px;width:61.00px;height:20px;line-height:20px;text-align:center">77926</div>
<div class="t" style="left:282.00px;top:422.05px;width:341.00px;height:20px;line-height:20px;text-align:left">数字经济<span class="po">（</span>新增<span class="pc">）</span></div>
<div class="n" style="left:623.60px;top:421.55px;width:61.00px;height:20px;line-height:20px;text-align:center"><span class="dash">–</span></div>
<div class="n" style="left:684.60px;top:421.55px;width:61.00px;height:20px;line-height:20px;text-align:center"><span class="dash">–</span></div>
<div class="n" style="left:745.60px;top:421.55px;width:61.00px;height:20px;line-height:20px;text-align:center"><span class="dash">–</span></div>
<div class="n" style="left:806.60px;top:421.55px;width:61.00px;height:20px;line-height:20px;text-align:center"><span class="dash">–</span></div>
<div class="n" style="left:867.60px;top:421.55px;width:61.00px;height:20px;line-height:20px;text-align:center"><span class="dash">–</span></div>
<div class="n" style="left:928.60px;top:421.55px;width:61.00px;height:20px;line-height:20px;text-align:center"><span class="dash">–</span></div>
<div class="t" style="left:282.00px;top:439.75px;width:341.00px;height:20px;line-height:20px;text-align:left">财务管理</div>
<div class="n" style="left:623.60px;top:439.25px;width:61.00px;height:20px;line-height:20px;text-align:center">500</div>
<div class="n" style="left:684.60px;top:439.25px;width:61.00px;height:20px;line-height:20px;text-align:center">491</div>
<div class="n" style="left:745.60px;top:439.25px;width:61.00px;height:20px;line-height:20px;text-align:center">85349</div>
<div class="n" style="left:806.60px;top:439.25px;width:61.00px;height:20px;line-height:20px;text-align:center">488</div>
<div class="n" style="left:867.60px;top:439.25px;width:61.00px;height:20px;line-height:20px;text-align:center">479</div>
<div class="n" style="left:928.60px;top:439.25px;width:61.00px;height:20px;line-height:20px;text-align:center">77926</div>
<div class="t" style="left:282.00px;top:457.45px;width:341.00px;height:20px;line-height:20px;text-align:left">国际经济与贸易</div>
<div class="n" style="left:623.60px;top:456.95px;width:61.00px;height:20px;line-height:20px;text-align:center">504</div>
<div class="n" style="left:684.60px;top:456.95px;width:61.00px;height:20px;line-height:20px;text-align:center">493</div>
<div class="n" style="left:745.60px;top:456.95px;width:61.00px;height:20px;line-height:20px;text-align:center">84010</div>
<div class="n" style="left:806.60px;top:456.95px;width:61.00px;height:20px;line-height:20px;text-align:center">488</div>
<div class="n" style="left:867.60px;top:456.95px;width:61.00px;height:20px;line-height:20px;text-align:center">480</div>
<div class="n" style="left:928.60px;top:456.95px;width:61.00px;height:20px;line-height:20px;text-align:center">77208</div>
<div class="t" style="left:282.00px;top:475.15px;width:341.00px;height:20px;line-height:20px;text-align:left">物流管理</div>
<div class="n" style="left:623.60px;top:474.65px;width:61.00px;height:20px;line-height:20px;text-align:center">506</div>
<div class="n" style="left:684.60px;top:474.65px;width:61.00px;height:20px;line-height:20px;text-align:center">491</div>
<div class="n" style="left:745.60px;top:474.65px;width:61.00px;height:20px;line-height:20px;text-align:center">85349</div>
<div class="n" style="left:806.60px;top:474.65px;width:61.00px;height:20px;line-height:20px;text-align:center">483</div>
<div class="n" style="left:867.60px;top:474.65px;width:61.00px;height:20px;line-height:20px;text-align:center">474</div>
<div class="n" style="left:928.60px;top:474.65px;width:61.00px;height:20px;line-height:20px;text-align:center">81458</div>
<div class="t" style="left:282.00px;top:492.85px;width:341.00px;height:20px;line-height:20px;text-align:left">英语</div>
<div class="n" style="left:623.60px;top:492.35px;width:61.00px;height:20px;line-height:20px;text-align:center">512</div>
<div class="n" style="left:684.60px;top:492.35px;width:61.00px;height:20px;line-height:20px;text-align:center">492</div>
<div class="n" style="left:745.60px;top:492.35px;width:61.00px;height:20px;line-height:20px;text-align:center">84697</div>
<div class="n" style="left:806.60px;top:492.35px;width:61.00px;height:20px;line-height:20px;text-align:center">500</div>
<div class="n" style="left:867.60px;top:492.35px;width:61.00px;height:20px;line-height:20px;text-align:center">486</div>
<div class="n" style="left:928.60px;top:492.35px;width:61.00px;height:20px;line-height:20px;text-align:center">72953</div>
<div class="t" style="left:282.00px;top:510.55px;width:341.00px;height:20px;line-height:20px;text-align:left">商务英语</div>
<div class="n" style="left:623.60px;top:510.05px;width:61.00px;height:20px;line-height:20px;text-align:center">512</div>
<div class="n" style="left:684.60px;top:510.05px;width:61.00px;height:20px;line-height:20px;text-align:center">492</div>
<div class="n" style="left:745.60px;top:510.05px;width:61.00px;height:20px;line-height:20px;text-align:center">84697</div>
<div class="n" style="left:806.60px;top:510.05px;width:61.00px;height:20px;line-height:20px;text-align:center">500</div>
<div class="n" style="left:867.60px;top:510.05px;width:61.00px;height:20px;line-height:20px;text-align:center">486</div>
<div class="n" style="left:928.60px;top:510.05px;width:61.00px;height:20px;line-height:20px;text-align:center">72953</div>
<div class="t" style="left:282.00px;top:528.25px;width:341.00px;height:20px;line-height:20px;text-align:left">小学教育<span class="po">（</span>卓越教师班<span class="pc">）</span><span class="po">（</span>师范类<span class="pc">）</span></div>
<div class="n" style="left:623.60px;top:527.75px;width:61.00px;height:20px;line-height:20px;text-align:center">515</div>
<div class="n" style="left:684.60px;top:527.75px;width:61.00px;height:20px;line-height:20px;text-align:center">495</div>
<div class="n" style="left:745.60px;top:527.75px;width:61.00px;height:20px;line-height:20px;text-align:center">82662</div>
<div class="n" style="left:806.60px;top:527.75px;width:61.00px;height:20px;line-height:20px;text-align:center">491</div>
<div class="n" style="left:867.60px;top:527.75px;width:61.00px;height:20px;line-height:20px;text-align:center">486</div>
<div class="n" style="left:928.60px;top:527.75px;width:61.00px;height:20px;line-height:20px;text-align:center">72953</div>
<div class="t" style="left:282.00px;top:545.95px;width:341.00px;height:20px;line-height:20px;text-align:left">汉语言文学<span class="po">（</span>卓越教师班<span class="pc">）</span><span class="po">（</span>师范类<span class="pc">）</span></div>
<div class="n" style="left:623.60px;top:545.45px;width:61.00px;height:20px;line-height:20px;text-align:center">529</div>
<div class="n" style="left:684.60px;top:545.45px;width:61.00px;height:20px;line-height:20px;text-align:center">496</div>
<div class="n" style="left:745.60px;top:545.45px;width:61.00px;height:20px;line-height:20px;text-align:center">82064</div>
<div class="n" style="left:806.60px;top:545.45px;width:61.00px;height:20px;line-height:20px;text-align:center">501</div>
<div class="n" style="left:867.60px;top:545.45px;width:61.00px;height:20px;line-height:20px;text-align:center">491</div>
<div class="n" style="left:928.60px;top:545.45px;width:61.00px;height:20px;line-height:20px;text-align:center">69381</div>
<div class="t" style="left:282.00px;top:563.65px;width:341.00px;height:20px;line-height:20px;text-align:left">网络与新媒体</div>
<div class="n" style="left:623.60px;top:563.15px;width:61.00px;height:20px;line-height:20px;text-align:center">533</div>
<div class="n" style="left:684.60px;top:563.15px;width:61.00px;height:20px;line-height:20px;text-align:center">496</div>
<div class="n" style="left:745.60px;top:563.15px;width:61.00px;height:20px;line-height:20px;text-align:center">82064</div>
<div class="n" style="left:806.60px;top:563.15px;width:61.00px;height:20px;line-height:20px;text-align:center">506</div>
<div class="n" style="left:867.60px;top:563.15px;width:61.00px;height:20px;line-height:20px;text-align:center">491</div>
<div class="n" style="left:928.60px;top:563.15px;width:61.00px;height:20px;line-height:20px;text-align:center">69381</div>
<div class="t" style="left:282.00px;top:581.35px;width:341.00px;height:20px;line-height:20px;text-align:left">工程管理</div>
<div class="n" style="left:623.60px;top:580.85px;width:61.00px;height:20px;line-height:20px;text-align:center">514</div>
<div class="n" style="left:684.60px;top:580.85px;width:61.00px;height:20px;line-height:20px;text-align:center">493</div>
<div class="n" style="left:745.60px;top:580.85px;width:61.00px;height:20px;line-height:20px;text-align:center">84010</div>
<div class="n" style="left:806.60px;top:580.85px;width:61.00px;height:20px;line-height:20px;text-align:center">493</div>
<div class="n" style="left:867.60px;top:580.85px;width:61.00px;height:20px;line-height:20px;text-align:center">466</div>
<div class="n" style="left:928.60px;top:580.85px;width:61.00px;height:20px;line-height:20px;text-align:center">87052</div>
<div class="t" style="left:282.00px;top:599.05px;width:341.00px;height:20px;line-height:20px;text-align:left">服装设计与工程</div>
<div class="n" style="left:623.60px;top:598.55px;width:61.00px;height:20px;line-height:20px;text-align:center"><span class="dash">–</span></div>
<div class="n" style="left:684.60px;top:598.55px;width:61.00px;height:20px;line-height:20px;text-align:center"><span class="dash">–</span></div>
<div class="n" style="left:745.60px;top:598.55px;width:61.00px;height:20px;line-height:20px;text-align:center"><span class="dash">–</span></div>
<div class="n" style="left:806.60px;top:598.55px;width:61.00px;height:20px;line-height:20px;text-align:center">487</div>
<div class="n" style="left:867.60px;top:598.55px;width:61.00px;height:20px;line-height:20px;text-align:center">453</div>
<div class="n" style="left:928.60px;top:598.55px;width:61.00px;height:20px;line-height:20px;text-align:center">96100</div>
<div class="t" style="left:282.00px;top:616.75px;width:341.00px;height:20px;line-height:20px;text-align:left">复合材料与工程</div>
<div class="n" style="left:623.60px;top:616.25px;width:61.00px;height:20px;line-height:20px;text-align:center">499</div>
<div class="n" style="left:684.60px;top:616.25px;width:61.00px;height:20px;line-height:20px;text-align:center">479</div>
<div class="n" style="left:745.60px;top:616.25px;width:61.00px;height:20px;line-height:20px;text-align:center">93248</div>
<div class="n" style="left:806.60px;top:616.25px;width:61.00px;height:20px;line-height:20px;text-align:center">476</div>
<div class="n" style="left:867.60px;top:616.25px;width:61.00px;height:20px;line-height:20px;text-align:center">462</div>
<div class="n" style="left:928.60px;top:616.25px;width:61.00px;height:20px;line-height:20px;text-align:center">89834</div>
<div class="t" style="left:282.00px;top:634.45px;width:341.00px;height:20px;line-height:20px;text-align:left">应用物理学<span class="po">（</span>微电子科学方向、光电信息科学方向<span class="pc">）</span></div>
<div class="n" style="left:623.60px;top:633.95px;width:61.00px;height:20px;line-height:20px;text-align:center">497</div>
<div class="n" style="left:684.60px;top:633.95px;width:61.00px;height:20px;line-height:20px;text-align:center">482</div>
<div class="n" style="left:745.60px;top:633.95px;width:61.00px;height:20px;line-height:20px;text-align:center">91235</div>
<div class="n" style="left:806.60px;top:633.95px;width:61.00px;height:20px;line-height:20px;text-align:center">488</div>
<div class="n" style="left:867.60px;top:633.95px;width:61.00px;height:20px;line-height:20px;text-align:center">464</div>
<div class="n" style="left:928.60px;top:633.95px;width:61.00px;height:20px;line-height:20px;text-align:center">88458</div>
<div class="t" style="left:282.00px;top:652.15px;width:341.00px;height:20px;line-height:20px;text-align:left">化学工程与工艺<span class="po">（</span>产业人才计划、数智化工、能源化工方向<span class="pc">）</span></div>
<div class="n" style="left:623.60px;top:651.65px;width:61.00px;height:20px;line-height:20px;text-align:center">488</div>
<div class="n" style="left:684.60px;top:651.65px;width:61.00px;height:20px;line-height:20px;text-align:center">480</div>
<div class="n" style="left:745.60px;top:651.65px;width:61.00px;height:20px;line-height:20px;text-align:center">92571</div>
<div class="n" style="left:806.60px;top:651.65px;width:61.00px;height:20px;line-height:20px;text-align:center">472</div>
<div class="n" style="left:867.60px;top:651.65px;width:61.00px;height:20px;line-height:20px;text-align:center">456</div>
<div class="n" style="left:928.60px;top:651.65px;width:61.00px;height:20px;line-height:20px;text-align:center">94023</div>
<div class="t" style="left:282.00px;top:669.85px;width:341.00px;height:20px;line-height:20px;text-align:left">给排水科学与工程</div>
<div class="n" style="left:623.60px;top:669.35px;width:61.00px;height:20px;line-height:20px;text-align:center">494</div>
<div class="n" style="left:684.60px;top:669.35px;width:61.00px;height:20px;line-height:20px;text-align:center">478</div>
<div class="n" style="left:745.60px;top:669.35px;width:61.00px;height:20px;line-height:20px;text-align:center">93886</div>
<div class="n" style="left:806.60px;top:669.35px;width:61.00px;height:20px;line-height:20px;text-align:center">488</div>
<div class="n" style="left:867.60px;top:669.35px;width:61.00px;height:20px;line-height:20px;text-align:center">466</div>
<div class="n" style="left:928.60px;top:669.35px;width:61.00px;height:20px;line-height:20px;text-align:center">87052</div>
<div class="t" style="left:282.00px;top:687.55px;width:341.00px;height:20px;line-height:20px;text-align:left">安全工程</div>
<div class="n" style="left:623.60px;top:687.05px;width:61.00px;height:20px;line-height:20px;text-align:center"><span class="dash">–</span></div>
<div class="n" style="left:684.60px;top:687.05px;width:61.00px;height:20px;line-height:20px;text-align:center"><span class="dash">–</span></div>
<div class="n" style="left:745.60px;top:687.05px;width:61.00px;height:20px;line-height:20px;text-align:center"><span class="dash">–</span></div>
<div class="n" style="left:806.60px;top:687.05px;width:61.00px;height:20px;line-height:20px;text-align:center"><span class="dash">–</span></div>
<div class="n" style="left:867.60px;top:687.05px;width:61.00px;height:20px;line-height:20px;text-align:center"><span class="dash">–</span></div>
<div class="n" style="left:928.60px;top:687.05px;width:61.00px;height:20px;line-height:20px;text-align:center"><span class="dash">–</span></div>
<div class="t" style="left:282.00px;top:705.25px;width:341.00px;height:20px;line-height:20px;text-align:left">土木工程<span class="po">（</span>卓越计划、房屋建筑、地下工程、道路桥梁<span class="pc">）</span></div>
<div class="n" style="left:623.60px;top:704.75px;width:61.00px;height:20px;line-height:20px;text-align:center"><span class="dash">–</span></div>
<div class="n" style="left:684.60px;top:704.75px;width:61.00px;height:20px;line-height:20px;text-align:center"><span class="dash">–</span></div>
<div class="n" style="left:745.60px;top:704.75px;width:61.00px;height:20px;line-height:20px;text-align:center"><span class="dash">–</span></div>
<div class="n" style="left:806.60px;top:704.75px;width:61.00px;height:20px;line-height:20px;text-align:center"><span class="dash">–</span></div>
<div class="n" style="left:867.60px;top:704.75px;width:61.00px;height:20px;line-height:20px;text-align:center"><span class="dash">–</span></div>
<div class="n" style="left:928.60px;top:704.75px;width:61.00px;height:20px;line-height:20px;text-align:center"><span class="dash">–</span></div>
<div class="t" style="left:282.00px;top:722.95px;width:341.00px;height:20px;line-height:20px;text-align:left">机械设计制造及其自动化<span class="po">（</span>产业计划<span class="pc">）</span></div>
<div class="n" style="left:623.60px;top:722.45px;width:61.00px;height:20px;line-height:20px;text-align:center"><span class="dash">–</span></div>
<div class="n" style="left:684.60px;top:722.45px;width:61.00px;height:20px;line-height:20px;text-align:center"><span class="dash">–</span></div>
<div class="n" style="left:745.60px;top:722.45px;width:61.00px;height:20px;line-height:20px;text-align:center"><span class="dash">–</span></div>
<div class="n" style="left:806.60px;top:722.45px;width:61.00px;height:20px;line-height:20px;text-align:center"><span class="dash">–</span></div>
<div class="n" style="left:867.60px;top:722.45px;width:61.00px;height:20px;line-height:20px;text-align:center"><span class="dash">–</span></div>
<div class="n" style="left:928.60px;top:722.45px;width:61.00px;height:20px;line-height:20px;text-align:center"><span class="dash">–</span></div>
<div class="t" style="left:282.00px;top:740.65px;width:341.00px;height:20px;line-height:20px;text-align:left">电子信息工程</div>
<div class="n" style="left:623.60px;top:740.15px;width:61.00px;height:20px;line-height:20px;text-align:center">524</div>
<div class="n" style="left:684.60px;top:740.15px;width:61.00px;height:20px;line-height:20px;text-align:center">505</div>
<div class="n" style="left:745.60px;top:740.15px;width:61.00px;height:20px;line-height:20px;text-align:center">76153</div>
<div class="n" style="left:806.60px;top:740.15px;width:61.00px;height:20px;line-height:20px;text-align:center">506</div>
<div class="n" style="left:867.60px;top:740.15px;width:61.00px;height:20px;line-height:20px;text-align:center">481</div>
<div class="n" style="left:928.60px;top:740.15px;width:61.00px;height:20px;line-height:20px;text-align:center">76504</div>
<div class="t" style="left:282.00px;top:758.35px;width:341.00px;height:20px;line-height:20px;text-align:left">通信工程</div>
<div class="n" style="left:623.60px;top:757.85px;width:61.00px;height:20px;line-height:20px;text-align:center">519</div>
<div class="n" style="left:684.60px;top:757.85px;width:61.00px;height:20px;line-height:20px;text-align:center">501</div>
<div class="n" style="left:745.60px;top:757.85px;width:61.00px;height:20px;line-height:20px;text-align:center">78798</div>
<div class="n" style="left:806.60px;top:757.85px;width:61.00px;height:20px;line-height:20px;text-align:center">506</div>
<div class="n" style="left:867.60px;top:757.85px;width:61.00px;height:20px;line-height:20px;text-align:center">481</div>
<div class="n" style="left:928.60px;top:757.85px;width:61.00px;height:20px;line-height:20px;text-align:center">76504</div>
<div class="t" style="left:282.00px;top:776.05px;width:341.00px;height:20px;line-height:20px;text-align:left">电气工程及其自动化</div>
<div class="n" style="left:623.60px;top:775.55px;width:61.00px;height:20px;line-height:20px;text-align:center">545</div>
<div class="n" style="left:684.60px;top:775.55px;width:61.00px;height:20px;line-height:20px;text-align:center">519</div>
<div class="n" style="left:745.60px;top:775.55px;width:61.00px;height:20px;line-height:20px;text-align:center">66865</div>
<div class="n" style="left:806.60px;top:775.55px;width:61.00px;height:20px;line-height:20px;text-align:center">511</div>
<div class="n" style="left:867.60px;top:775.55px;width:61.00px;height:20px;line-height:20px;text-align:center">494</div>
<div class="n" style="left:928.60px;top:775.55px;width:61.00px;height:20px;line-height:20px;text-align:center">67256</div>
<div class="t" style="left:282.00px;top:793.75px;width:341.00px;height:20px;line-height:20px;text-align:left">自动化</div>
<div class="n" style="left:623.60px;top:793.25px;width:61.00px;height:20px;line-height:20px;text-align:center">528</div>
<div class="n" style="left:684.60px;top:793.25px;width:61.00px;height:20px;line-height:20px;text-align:center">511</div>
<div class="n" style="left:745.60px;top:793.25px;width:61.00px;height:20px;line-height:20px;text-align:center">72170</div>
<div class="n" style="left:806.60px;top:793.25px;width:61.00px;height:20px;line-height:20px;text-align:center">505</div>
<div class="n" style="left:867.60px;top:793.25px;width:61.00px;height:20px;line-height:20px;text-align:center">478</div>
<div class="n" style="left:928.60px;top:793.25px;width:61.00px;height:20px;line-height:20px;text-align:center">78660</div>
<div class="t" style="left:282.00px;top:811.45px;width:341.00px;height:20px;line-height:20px;text-align:left">人工智能</div>
<div class="n" style="left:623.60px;top:810.95px;width:61.00px;height:20px;line-height:20px;text-align:center">522</div>
<div class="n" style="left:684.60px;top:810.95px;width:61.00px;height:20px;line-height:20px;text-align:center">510</div>
<div class="n" style="left:745.60px;top:810.95px;width:61.00px;height:20px;line-height:20px;text-align:center">72830</div>
<div class="n" style="left:806.60px;top:810.95px;width:61.00px;height:20px;line-height:20px;text-align:center">501</div>
<div class="n" style="left:867.60px;top:810.95px;width:61.00px;height:20px;line-height:20px;text-align:center">488</div>
<div class="n" style="left:928.60px;top:810.95px;width:61.00px;height:20px;line-height:20px;text-align:center">71548</div>
<div class="t" style="left:282.00px;top:829.15px;width:341.00px;height:20px;line-height:20px;text-align:left">机械设计制造及其自动化</div>
<div class="n" style="left:623.60px;top:828.65px;width:61.00px;height:20px;line-height:20px;text-align:center">566</div>
<div class="n" style="left:684.60px;top:828.65px;width:61.00px;height:20px;line-height:20px;text-align:center">496</div>
<div class="n" style="left:745.60px;top:828.65px;width:61.00px;height:20px;line-height:20px;text-align:center">82064</div>
<div class="n" style="left:806.60px;top:828.65px;width:61.00px;height:20px;line-height:20px;text-align:center">502</div>
<div class="n" style="left:867.60px;top:828.65px;width:61.00px;height:20px;line-height:20px;text-align:center">472</div>
<div class="n" style="left:928.60px;top:828.65px;width:61.00px;height:20px;line-height:20px;text-align:center">82900</div>
<div class="t" style="left:282.00px;top:846.85px;width:341.00px;height:20px;line-height:20px;text-align:left">机械设计制造及其自动化<span class="po">（</span>产业计划<span class="pc">）</span></div>
<div class="n" style="left:623.60px;top:846.35px;width:61.00px;height:20px;line-height:20px;text-align:center">566</div>
<div class="n" style="left:684.60px;top:846.35px;width:61.00px;height:20px;line-height:20px;text-align:center">496</div>
<div class="n" style="left:745.60px;top:846.35px;width:61.00px;height:20px;line-height:20px;text-align:center">82064</div>
<div class="n" style="left:806.60px;top:846.35px;width:61.00px;height:20px;line-height:20px;text-align:center">502</div>
<div class="n" style="left:867.60px;top:846.35px;width:61.00px;height:20px;line-height:20px;text-align:center">472</div>
<div class="n" style="left:928.60px;top:846.35px;width:61.00px;height:20px;line-height:20px;text-align:center">82900</div>
<div class="t" style="left:282.00px;top:864.55px;width:341.00px;height:20px;line-height:20px;text-align:left">机械电子工程</div>
<div class="n" style="left:623.60px;top:864.05px;width:61.00px;height:20px;line-height:20px;text-align:center">566</div>
<div class="n" style="left:684.60px;top:864.05px;width:61.00px;height:20px;line-height:20px;text-align:center">496</div>
<div class="n" style="left:745.60px;top:864.05px;width:61.00px;height:20px;line-height:20px;text-align:center">82064</div>
<div class="n" style="left:806.60px;top:864.05px;width:61.00px;height:20px;line-height:20px;text-align:center">502</div>
<div class="n" style="left:867.60px;top:864.05px;width:61.00px;height:20px;line-height:20px;text-align:center">472</div>
<div class="n" style="left:928.60px;top:864.05px;width:61.00px;height:20px;line-height:20px;text-align:center">82900</div>
<div class="t" style="left:282.00px;top:882.25px;width:341.00px;height:20px;line-height:20px;text-align:left">车辆工程</div>
<div class="n" style="left:623.60px;top:881.75px;width:61.00px;height:20px;line-height:20px;text-align:center">566</div>
<div class="n" style="left:684.60px;top:881.75px;width:61.00px;height:20px;line-height:20px;text-align:center">496</div>
<div class="n" style="left:745.60px;top:881.75px;width:61.00px;height:20px;line-height:20px;text-align:center">82064</div>
<div class="n" style="left:806.60px;top:881.75px;width:61.00px;height:20px;line-height:20px;text-align:center">502</div>
<div class="n" style="left:867.60px;top:881.75px;width:61.00px;height:20px;line-height:20px;text-align:center">472</div>
<div class="n" style="left:928.60px;top:881.75px;width:61.00px;height:20px;line-height:20px;text-align:center">82900</div>
</body></html>
